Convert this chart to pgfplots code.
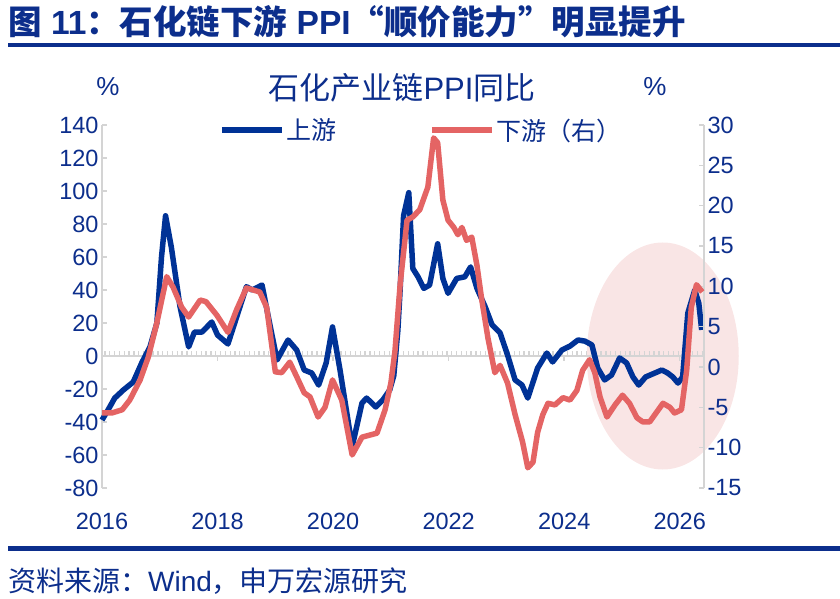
\documentclass[border=0pt]{standalone}
\usepackage{pgfplots}
\pgfplotsset{compat=1.18}
\usepackage{fontspec}
\setmainfont{Liberation Sans}
\newfontfamily\cjk{Noto Sans CJK SC}
\definecolor{navy}{RGB}{12,46,140}
\definecolor{upblue}{RGB}{0,50,150}
\definecolor{downred}{RGB}{228,100,100}
\definecolor{pinkfill}{RGB}{249,229,229}
\definecolor{axgray}{RGB}{212,212,212}
\begin{document}
\begin{tikzpicture}
\path[use as bounding box] (0bp,0bp) rectangle (840bp,599bp);
% header
\node[anchor=west, text=navy, inner sep=0pt] at (8bp,577bp) {\fontsize{33.5bp}{36bp}\selectfont\bfseries{\cjk 图} 11{\cjk ：石化链下游} PPI{\cjk “顺价能力”明显提升}};
\fill[navy] (8bp,551.5bp) rectangle (840bp,556bp);
\fill[navy] (8bp,48bp) rectangle (840bp,52.5bp);
\node[anchor=west, text=navy, inner sep=0pt] at (8bp,18bp) {\fontsize{28bp}{30bp}\selectfont{\cjk 资料来源：}Wind{\cjk ，申万宏源研究}};
% titles
\node[text=navy, inner sep=0pt] at (402bp,511bp) {\fontsize{31bp}{33bp}\selectfont{\cjk 石化产业链}PPI{\cjk 同比}};
\node[text=navy, inner sep=0pt] at (108bp,512bp) {\fontsize{26bp}{28bp}\selectfont\%};
\node[text=navy, inner sep=0pt] at (655bp,512bp) {\fontsize{26bp}{28bp}\selectfont\%};

\pgfplotsset{
  common/.style={
    at={(102bp,111bp)}, anchor=south west,
    width=602bp, height=363bp, scale only axis,
    xmin=2016, xmax=2026.42,
    y axis line style={draw=axgray, line width=1.5bp},
    ytick style={draw=axgray, line width=1.5bp},
    tick align=inside, major tick length=5bp,
    ticklabel style={font=\fontsize{23.5bp}{26bp}\selectfont, text=navy},
    /pgf/number format/assume math mode=true,
    /pgf/number format/1000 sep={},
    clip=false,
    legend image code/.code={\draw[##1, line width=6bp, line cap=butt] (0bp,0bp) -- (60bp,0bp);},
  },
  legstyle/.style={legend style={at={(#1,0.986)}, anchor=west, draw=none, fill=none,
    inner sep=0pt, outer sep=0pt, row sep=0pt,
    font=\fontsize{25bp}{27bp}\selectfont\cjk, text=navy,
    cells={anchor=west, inner sep=0pt},
    /tikz/every even column/.append style={column sep=0bp}}},
}

\begin{axis}[common, legstyle=0.1943,
  ymin=-80, ymax=140,
  axis x line*=bottom, axis y line*=left,
  x axis line style={draw=none},
  xtick={2016,2018,...,2026},
  xtick style={draw=none},
  xticklabel style={yshift=-22bp},
  ytick={-80,-60,...,140},
]
\fill[pinkfill] (axis cs:2025.706,0) ellipse [x radius=76bp, y radius=113.5bp];
\draw[axgray, line width=1.5bp] (axis cs:2016,0) -- (axis cs:2026.42,0);
\draw[axgray, line width=5bp, dash pattern=on 1.3bp off 3.517bp, yshift=2.6bp] (axis cs:2016.04,0) -- (axis cs:2026.42,0);
\pgfplotsinvokeforeach{2016,2018,2020,2022,2024,2026}{
  \draw[axgray, line width=1.5bp] (axis cs:#1,0) -- ++(0bp,-5bp);
}
\addplot[upblue, line width=5.5bp, line join=round] coordinates {
(2016.0,-38.8) (2016.1,-33) (2016.22,-25.5) (2016.37,-20.6) (2016.54,-15.8)
(2016.69,-4) (2016.83,5.5) (2016.95,20) (2017.03,60) (2017.1,85)
(2017.2,66) (2017.35,30) (2017.5,5.5) (2017.6,14.5) (2017.73,14.5)
(2017.9,20.6) (2018.0,12.7) (2018.18,7.3) (2018.33,23.6) (2018.5,42)
(2018.6,40) (2018.77,43) (2018.9,20) (2019.03,-2.4) (2019.22,9.7)
(2019.37,3.6) (2019.5,-8.5) (2019.63,-10.3) (2019.75,-17.6) (2019.88,-4.2)
(2019.99,17.6) (2020.12,-8.5) (2020.33,-55) (2020.5,-28.5) (2020.58,-25.5)
(2020.74,-30.9) (2020.86,-26.7) (2020.98,-20.6) (2021.05,-12) (2021.12,15)
(2021.16,40) (2021.22,85) (2021.31,99) (2021.38,53) (2021.47,48)
(2021.57,41) (2021.67,43) (2021.81,68) (2021.9,47) (2021.99,38)
(2022.14,47) (2022.28,48) (2022.38,54) (2022.49,41) (2022.63,30)
(2022.75,19) (2022.89,14) (2023.02,0.6) (2023.15,-14.5) (2023.27,-17.6)
(2023.37,-25.5) (2023.54,-7.3) (2023.7,1.8) (2023.8,-3.6) (2023.96,3.6)
(2024.1,6) (2024.24,9.7) (2024.36,9) (2024.48,6.7) (2024.58,-7.3)
(2024.7,-14.5) (2024.82,-11.5) (2024.96,-1.2) (2025.08,-4.2) (2025.19,-12.7)
(2025.29,-17.6) (2025.41,-12.7) (2025.53,-10.9) (2025.69,-8.5) (2025.79,-10.3)
(2025.88,-12.7) (2025.97,-16.4) (2026.05,-12.7) (2026.14,26) (2026.26,40)
(2026.33,32) (2026.38,15.8)
};
\addlegendentry{上游}
\end{axis}

\begin{axis}[common, legstyle=0.5431,
  ymin=-15, ymax=30,
  axis x line=none, axis y line*=right,
  ytick={-15,-10,...,30},
]
\addplot[downred, line width=5.5bp, line join=round] coordinates {
(2016.0,-5.7) (2016.17,-5.7) (2016.35,-5.3) (2016.48,-4.1) (2016.66,-1.6)
(2016.8,1.2) (2016.95,5.5) (2017.12,11.2) (2017.23,9.9) (2017.38,7.4)
(2017.5,6.2) (2017.7,8.3) (2017.8,8.1) (2017.99,6.4) (2018.18,4.3)
(2018.33,7.1) (2018.5,9.8) (2018.73,9.3) (2018.85,7.4) (2019.0,-0.6)
(2019.11,-0.7) (2019.25,0.6) (2019.37,-1.2) (2019.5,-3.2) (2019.6,-3.7)
(2019.74,-6.2) (2019.86,-5) (2019.99,-1.6) (2020.15,-4.1) (2020.33,-10.9)
(2020.5,-8.7) (2020.76,-8.2) (2020.9,-5.3) (2021.0,-2) (2021.07,1.9)
(2021.16,10.2) (2021.28,18.2) (2021.38,18.6) (2021.5,19.5) (2021.64,22.3)
(2021.74,28.4) (2021.81,27.8) (2021.9,20.7) (2021.99,18.2) (2022.09,17.3)
(2022.16,16.4) (2022.23,17.3) (2022.31,15.7) (2022.4,16.1) (2022.49,12.6)
(2022.57,8.5) (2022.68,3.6) (2022.8,-0.7) (2022.89,0.2) (2023.02,-2)
(2023.15,-5.9) (2023.28,-9.3) (2023.37,-12.5) (2023.46,-11.8) (2023.54,-8.1)
(2023.63,-5.9) (2023.72,-4.5) (2023.84,-4.7) (2023.98,-3.8) (2024.1,-4.1)
(2024.22,-2.9) (2024.32,-0.4) (2024.44,0.9) (2024.53,-0.7) (2024.62,-3.7)
(2024.74,-6.2) (2024.88,-4.7) (2025.01,-3.5) (2025.13,-4.5) (2025.26,-6.3)
(2025.36,-6.8) (2025.48,-6.8) (2025.6,-5.6) (2025.71,-4.5) (2025.83,-5)
(2025.91,-5.7) (2026.03,-5.3) (2026.12,-0.4) (2026.2,7.4) (2026.29,10.2)
(2026.39,9.3)
};
\addlegendentry{下游（右）}
\end{axis}
\end{tikzpicture}
\end{document}
